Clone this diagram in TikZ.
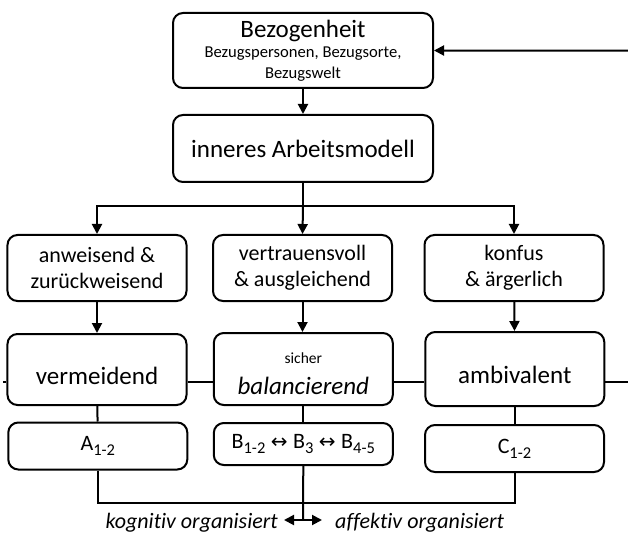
\documentclass[tikz,border=0pt]{standalone}
\usepackage{fontspec}
\setmainfont{Carlito}[Ligatures=NoCommon]
\newfontfamily\arrowfont{DejaVu Sans}
\usetikzlibrary{arrows.meta}
% lowered index digits such as A_{1-2}
\newcommand{\lowidx}[1]{\raisebox{-5bp}{\fontsize{16.5bp}{16.5bp}\selectfont #1}}
\newcommand{\lr}{\hspace{5.5bp}{\arrowfont\fontsize{20bp}{20bp}\selectfont ↔}\hspace{5.5bp}}

\begin{document}
\begin{tikzpicture}[x=1bp,y=-1bp,
  box/.style={draw, line width=2bp, rounded corners=10bp, fill=white,
              align=center, inner sep=0pt, minimum width=179bp},
  conn/.style={line width=2bp},
  head/.tip={Triangle[length=10bp,width=10bp]},
  arr/.style={conn, -head},
  dbl/.style={conn, head-head},
  big/.style={font=\fontsize{25bp}{30bp}\selectfont},
  mid/.style={font=\fontsize{22bp}{26bp}\selectfont},
  itl/.style={font=\fontsize{22bp}{26bp}\selectfont\itshape},
]
\useasboundingbox (0,0) rectangle (628,533);

% top: relatedness and internal working model
\node[box, minimum width=260bp, minimum height=75bp,
      font=\fontsize{16.6bp}{20.5bp}\selectfont] (bez) at (303,50.5)
  {{\fontsize{25bp}{20bp}\selectfont Bezogenheit}\\
   Bezugspersonen, Bezugsorte,\\
   Bezugswelt};
\node[box, big, minimum width=260bp, minimum height=67bp] (inner) at (303,148.5)
  {inneres Arbeitsmodell};

% caregiver behaviour
\node[box, mid, minimum height=66bp] (r1a) at (97,268)    {anweisend \&\\zurückweisend};
\node[box, mid, minimum height=66bp] (r1b) at (302.5,268) {vertrauensvoll\\\& ausgleichend};
\node[box, mid, minimum height=66bp] (r1c) at (514,268)   {konfus\\\& ärgerlich};

% attachment patterns
\node[box, big, minimum height=71bp, text height=29bp, text depth=0bp] (r2a) at (97,369.5) {vermeidend};
\node[box, minimum height=72bp, font=\fontsize{15.5bp}{31bp}\selectfont] (r2b) at (303.3,369)
  {\rule{0pt}{21bp}sicher\\
   {\fontsize{25bp}{31bp}\selectfont\itshape balancierend}};
\node[box, big, minimum height=74bp, text height=28.6bp, text depth=0bp] (r2c) at (514.8,369) {ambivalent};

% subgroups
\node[box, mid, minimum height=47bp] (r3a) at (97.8,446)  {A\lowidx{1-2}};
\node[box, mid, minimum height=42bp] (r3b) at (303.3,444) {B\lowidx{1-2}\lr B\lowidx{3}\lr B\lowidx{4-5}};
\node[box, mid, minimum height=47bp] (r3c) at (514.5,448.5) {C\lowidx{1-2}};

% feedback from the right
\coordinate (fb) at (628,50.7);
\draw[arr] (fb) -- (bez.east);

\draw[arr] (bez) -- (inner);
\coordinate (split) at (303,206.5);
\draw[conn] (inner.south) -- (split);
\draw[arr] (split) -- (r1b.north);
\draw[arr] (split) -| (r1a.north);
\draw[arr] (split) -| (r1c.north);

\draw[arr] (r1a) -- (r2a);
\draw[arr] (r1b.south) -- (r2b.north -| r1b.south);
\draw[arr] (r1c) -- (r2c);

% horizontal line through the patterns
\coordinate (lstub) at (3,381.7);
\coordinate (rstub) at (628,381.7);
\draw[conn] (lstub) -- (r2a.west |- lstub);
\draw[conn] (r2a.east |- lstub) -- (r2b.west |- lstub);
\draw[conn] (r2b.east |- lstub) -- (r2c.west |- lstub);
\draw[conn] (r2c.east |- lstub) -- (rstub);

\draw[conn] (r2a) -- (r3a);
\draw[conn] (r2b) -- (r3b);
\draw[conn] (r2c.south) -- (r3c.north -| r2c.south);

% bottom bus and organisation axis
\coordinate (bus) at (303,502.7);
\coordinate (fork) at (303,520);
\draw[conn] (r3a.south) |- (bus) -| (r3c.south);
\draw[conn] (r3b.south) -- (fork);
\node[itl, anchor=base east, inner sep=0pt] (kog) at (278,528) {kognitiv organisiert};
\node[itl, anchor=base west, inner sep=0pt] (aff) at (335,528) {affektiv organisiert};
\draw[dbl] ([xshift=6bp]kog.east |- fork) -- ([xshift=-13bp]aff.west |- fork);
\end{tikzpicture}
\end{document}
